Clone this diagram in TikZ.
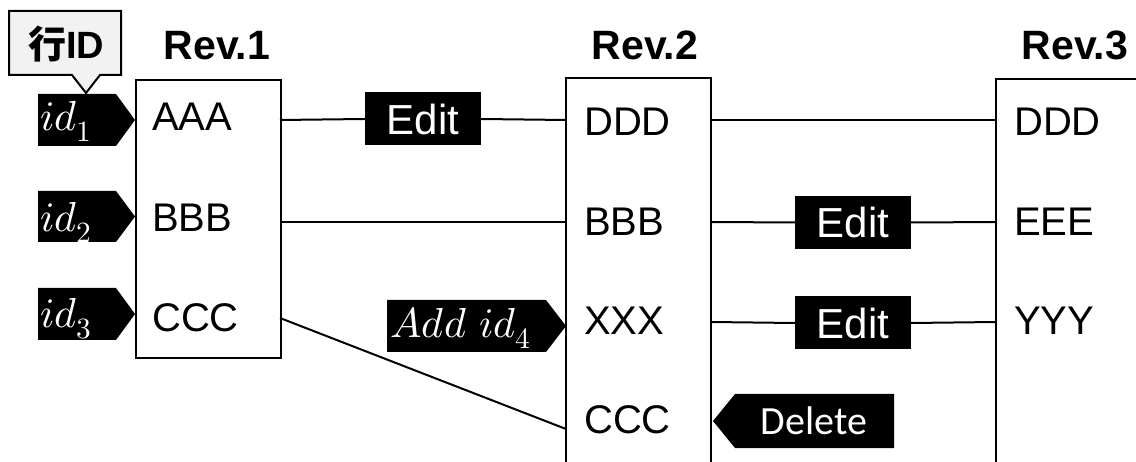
\documentclass[tikz,border=0pt]{standalone}
\usepackage{fontspec}
\usepackage{unicode-math}
\setmainfont{Liberation Sans}
\setmathfont{Latin Modern Math}
\newfontfamily\calfont{Carlito}
\newfontfamily\cjkfont{Noto Sans CJK JP}
\begin{document}
\begin{tikzpicture}[x=1pt,y=-1pt,
  conn/.style={line width=2pt},
  revbox/.style={line width=2.2pt},
  celltext/.style={anchor=base west, inner sep=0pt, font=\fontsize{40}{40}\selectfont},
  revlabel/.style={anchor=base, inner sep=0pt, font=\bfseries\fontsize{41}{41}\selectfont},
  editbox/.style={fill=black, text=white, minimum width=116pt, minimum height=53pt, inner sep=0pt, font=\fontsize{42}{42}\selectfont},
  tagtext/.style={anchor=base west, text=white, inner sep=0pt, font=\fontsize{42}{42}\selectfont},
  tagshape/.style={fill=black},
]
\useasboundingbox (0,0) rectangle (1136,462);

% Rev boxes
\node[draw, revbox, anchor=north west, minimum width=145pt, minimum height=278pt, inner sep=0pt] (rev1) at (135,79) {};
\draw[revbox] (566,470) -- (566,78) -- (711,78) -- (711,470);
\draw[revbox] (996,470) -- (996,79) -- (1140,79);

% Rev labels
\node[revlabel] (lab1) at (217,60) {Rev.1};
\node[revlabel] (lab2) at (645,60) {Rev.2};
\node[revlabel] (lab3) at (1075,60) {Rev.3};

% cell texts
\node[celltext] (aaa) at (152,131) {AAA};
\node[celltext] (bbb1) at (152,232) {BBB};
\node[celltext] (ccc1) at (152,332) {CCC};
\node[celltext] (ddd2) at (584,136) {DDD};
\node[celltext] (bbb2) at (584,236) {BBB};
\node[celltext] (xxx) at (584,335) {XXX};
\node[celltext] (ccc2) at (584,434) {CCC};
\node[celltext] (ddd3) at (1014,136) {DDD};
\node[celltext] (eee) at (1014,236) {EEE};
\node[celltext] (yyy) at (1014,335) {YYY};

% connector end points
\coordinate (p1a) at (280,120);
\coordinate (p2a) at (566,120);
\coordinate (p2ar) at (711,120);
\coordinate (p3a) at (996,120);
\coordinate (p1b) at (280,222);
\coordinate (p2b) at (566,222);
\coordinate (p2br) at (711,222);
\coordinate (p3b) at (996,222);
\coordinate (p1c) at (280,318);
\coordinate (p2d) at (566,429);
\coordinate (p2cr) at (711,322);
\coordinate (p3c) at (996,322);

% edit boxes
\node[editbox] (edit1) at (423,119) {Edit};
\node[editbox] (edit2) at (853,222.5) {Edit};
\node[editbox] (edit3) at (853,323) {Edit};

% connectors
\draw[conn] (p1a) -- (edit1.west);
\draw[conn] (edit1.east) -- (p2a);
\draw[conn] (p2ar) -- (p3a);
\draw[conn] (p1b) -- (p2b);
\draw[conn] (p2br) -- (edit2.west);
\draw[conn] (edit2.east) -- (p3b);
\draw[conn] (p1c) -- (p2d);
\draw[conn] (p2cr) -- (edit3.west);
\draw[conn] (edit3.east) -- (p3c);

% id tags
\fill[tagshape] (38,94) -- (116,94) -- (135,120) -- (116,146) -- (38,146) -- cycle;
\node[tagtext] (id1) at (40,131) {$id_1$};
\fill[tagshape] (38,191) -- (116,191) -- (135,216.5) -- (116,242) -- (38,242) -- cycle;
\node[tagtext] (id2) at (40,232) {$id_2$};
\fill[tagshape] (38,288) -- (116,288) -- (135,314) -- (116,340) -- (38,340) -- cycle;
\node[tagtext] (id3) at (40,328) {$id_3$};
\fill[tagshape] (387,300) -- (546,300) -- (566,326) -- (546,352) -- (387,352) -- cycle;
\node[tagtext] (id4) at (390,338) {$Add\ id_4$};
\fill[tagshape] (713,421) -- (735,394) -- (894,394) -- (894,448) -- (735,448) -- cycle;
\node[text=white, inner sep=0pt, font=\calfont\fontsize{40}{40}\selectfont] (del) at (814,421) {Delete};

% callout
\filldraw[fill=black!5, draw=black, line width=2pt] (9,11) -- (121,11) -- (121,75) -- (100,75) -- (86,93) -- (72,75) -- (9,75) -- cycle;
\node[inner sep=0pt, font=\bfseries\fontsize{38}{38}\selectfont] (rowid) at (66,44) {{\cjkfont 行}ID};
\end{tikzpicture}
\end{document}
